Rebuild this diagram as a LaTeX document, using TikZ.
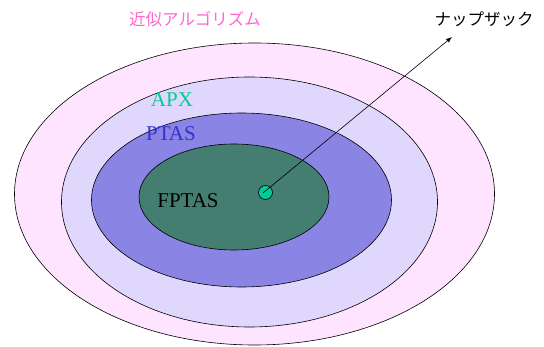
\documentclass[tikz,border=0pt]{standalone}
\usepackage{fontspec}
\setmainfont{Liberation Serif}
\newfontfamily\cjk{Noto Sans CJK JP}
\usetikzlibrary{arrows.meta}
\definecolor{cOuter}{HTML}{FFE4FF}
\definecolor{cApx}{HTML}{E0D8FC}
\definecolor{cPtas}{HTML}{8A84E4}
\definecolor{cFptas}{HTML}{447E70}
\definecolor{cDot}{HTML}{00CC99}
\definecolor{cPink}{HTML}{FF66CC}
\definecolor{cTeal}{HTML}{00CC99}
\definecolor{cBlue}{HTML}{3333CC}
\begin{document}
\begin{tikzpicture}[x=1pt,y=-1pt,
  region/.style={draw=black,line width=0.6pt},
  lbl/.style={inner sep=0pt,font=\fontsize{21}{21}\selectfont},
  jlbl/.style={inner sep=0pt,font=\cjk\fontsize{16.5}{16.5}\selectfont}]
\useasboundingbox (0,0) rectangle (544,347);
\filldraw[region,fill=cOuter] (254.5,194) ellipse [x radius=240,y radius=151];
\filldraw[region,fill=cApx] (249.5,202) ellipse [x radius=188,y radius=125];
\filldraw[region,fill=cPtas] (241.5,200) ellipse [x radius=150,y radius=87];
\filldraw[region,fill=cFptas] (234,197) ellipse [x radius=95,y radius=53];
\node[draw=black,fill=cDot,circle,minimum size=14pt,inner sep=0pt,line width=0.6pt] (dot) at (265.5,192.5) {};
\coordinate (dotc) at (263,193);
\node[jlbl,text=cPink] (approx) at (195,19) {近似アルゴリズム};
\node[jlbl,text=black] (knap) at (484,19) {ナップザック};
\coordinate (tip) at (452,37);
\node[lbl,text=cTeal] (apx) at (172,100) {APX};
\node[lbl,text=cBlue] (ptas) at (171,134) {PTAS};
\node[lbl,text=black] (fptas) at (188,201) {FPTAS};
\draw[line width=0.6pt,-{Latex[length=6pt,width=4.5pt]}] (dotc) -- (tip);
\end{tikzpicture}
\end{document}
